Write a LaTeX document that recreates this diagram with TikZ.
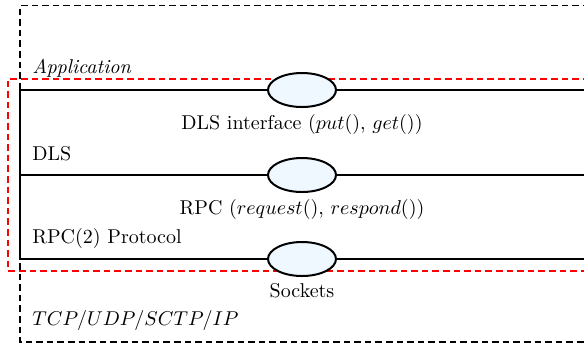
\documentclass[tikz,border=0pt]{standalone}
\usetikzlibrary{shapes.geometric}
\definecolor{portfill}{RGB}{240,248,255}
\begin{document}
\begin{tikzpicture}[x=0.5pt,y=-0.5pt,
  port/.style={ellipse,draw,line width=1pt,fill=portfill,
    minimum width=34pt,minimum height=17pt,inner sep=0pt},
  layer/.style={line width=1pt},
  frame/.style={line width=0.8pt,dash pattern=on 3.3pt off 2pt},
  lbl/.style={anchor=base west,inner sep=0pt},
  iface/.style={anchor=base,inner sep=0pt}]
\clip (0,0) rectangle (584,345);
% outer stack frame and the DLS frame
\draw[frame] (600,5.5) -| (20,342) -- (600,342);
\draw[frame,red] (600,79) -| (8,271) -- (600,271);
% interface ports between the layers
\node[port] (p1) at (302,90) {};
\node[port] (p2) at (302,175) {};
\node[port] (p3) at (302,259) {};
\coordinate (l1) at (20,90);
\coordinate (l2) at (20,175);
\coordinate (l3) at (20,259);
\coordinate (r1) at (600,90);
\coordinate (r2) at (600,175);
\coordinate (r3) at (600,259);
% layer boundaries
\draw[layer] (p1.west) -- (l1) -- (l3) -- (p3.west);
\draw[layer] (l2) -- (p2.west);
\draw[layer] (p1.east) -- (r1);
\draw[layer] (p2.east) -- (r2);
\draw[layer] (p3.east) -- (r3);
% layer names
\node[lbl,font=\itshape] (app) at (32,73) {Application};
\node[lbl] (dls) at (32,160) {DLS};
\node[lbl] (rpc) at (32,243.5) {RPC(2) Protocol};
\node[lbl] (tcp) at (32,325.5) {$TCP/UDP/SCTP/IP$};
% interface names
\node[iface] (t1) at (302,129) {DLS interface ($put()$, $get()$)};
\node[iface] (t2) at (302,214) {RPC ($request()$, $respond()$)};
\node[iface] (t3) at (302,297) {Sockets};
\end{tikzpicture}
\end{document}
